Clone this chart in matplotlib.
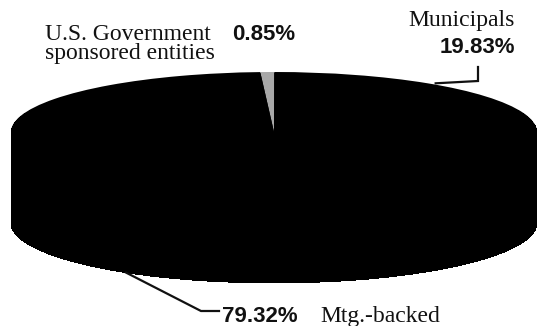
import numpy as np
import matplotlib
matplotlib.use("Agg")
import matplotlib.pyplot as plt

# ---- data ----
categories = ["U.S. Government\nsponsored entities", "Municipals", "Mtg.-backed"]
values = [0.85, 19.83, 79.32]
pct_labels = ["0.85%", "19.83%", "79.32%"]
top_colors = ["#a8a8a8", "#000000", "#000000"]
side_color = "#000000"

W, H = 538, 326
fig = plt.figure(figsize=(W / 100, H / 100), dpi=100)

# pie geometry in pixels
cx, a = 274, 263          # centre x, semi-major axis
cy_top, b = 132, 60       # top ellipse centre y, semi-minor axis
depth = 91                # thickness in pixels

top_px, bot_px = cy_top - b, cy_top + depth + b
ax2 = fig.add_axes([(cx - a) / W, 1 - bot_px / H, 2 * a / W, (bot_px - top_px) / H])
d = depth / b
start = 93.0
n_layers = 80
for k in np.linspace(d, 0.02, n_layers):
    ax2.pie(values, colors=[side_color] * 3, startangle=start, counterclock=False,
            center=(0, -k), radius=1, wedgeprops=dict(linewidth=0, antialiased=False))
ax2.pie(values, colors=top_colors, startangle=start, counterclock=False,
        center=(0, 0), radius=1, wedgeprops=dict(linewidth=0))
ax2.set_aspect("auto")
ax2.set_xlim(-1, 1)
ax2.set_ylim(-1 - d, 1)
ax2.axis("off")

# overlay axes in pixel coordinates for labels / leader lines
ax = fig.add_axes([0, 0, 1, 1], zorder=5)
ax.set_xlim(0, W)
ax.set_ylim(H, 0)
ax.axis("off")

fracs = np.array(values) / sum(values)
ends = start - 360 * np.cumsum(fracs)
mids = ends + 360 * fracs / 2

serif = dict(family="Liberation Serif", fontsize=17, color="#111111")
bold = dict(family="Liberation Sans", fontsize=16, fontweight="bold", color="#111111")

# U.S. Government sponsored entities
gov_lines = categories[0].split("\n")
ax.text(45, 40, gov_lines[0], ha="left", va="baseline", **serif)
ax.text(45, 59, gov_lines[1], ha="left", va="baseline", **serif)
ax.text(232, 40, pct_labels[0], ha="left", va="baseline", **bold)

# Municipals
ax.text(515, 26, categories[1], ha="right", va="baseline", **serif)
ax.text(515, 53, pct_labels[1], ha="right", va="baseline", **bold)
m = np.deg2rad(mids[1])
px, py = cx + a * np.cos(m), cy_top - b * np.sin(m)
ax.plot([px + 8, 478, 478], [py, 81, 67], color="#111111", lw=1.6, solid_joinstyle="miter")

# Mtg.-backed
m = np.deg2rad(mids[2])
px, py = cx + a * np.cos(m), cy_top + depth - b * np.sin(m)
ax.plot([px, 201, 219], [py, 311, 311], color="#111111", lw=1.6, solid_joinstyle="miter")
ax.text(222, 322, pct_labels[2], ha="left", va="baseline", **bold)
ax.text(320, 322, categories[2], ha="left", va="baseline", **serif)

fig.savefig("out.png", dpi=100)
